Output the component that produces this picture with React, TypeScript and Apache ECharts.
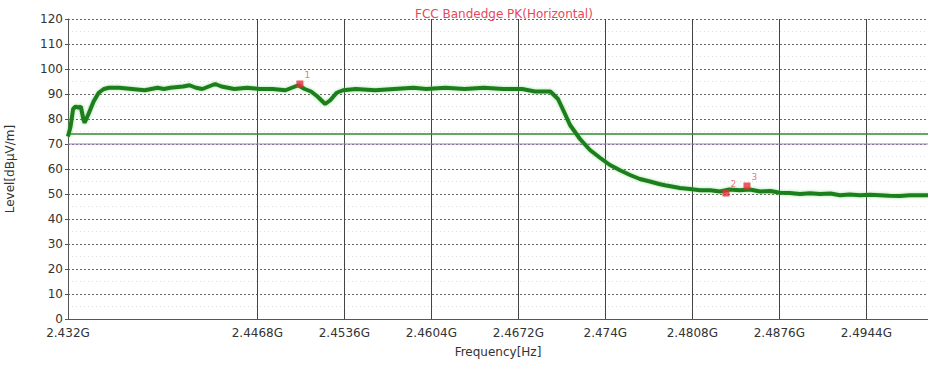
import React, { useEffect, useRef } from "react";
import * as echarts from "echarts";

const titleText = "FCC Bandedge PK(Horizontal)";
const xTickValues = [2.432, 2.4468, 2.4536, 2.4604, 2.4672, 2.474, 2.4808, 2.4876, 2.4944];
const freqs = [
  2.432, 2.4322, 2.4324, 2.4326, 2.4328, 2.433, 2.4332, 2.4333, 2.4336, 2.434,
  2.4344, 2.4348, 2.4352, 2.436, 2.437, 2.438, 2.439, 2.4395, 2.44, 2.441,
  2.4415, 2.442, 2.4425, 2.443, 2.4435, 2.444, 2.445, 2.446, 2.447,
  2.448, 2.449, 2.4495, 2.45, 2.4505, 2.451, 2.4515, 2.4521, 2.4525, 2.453,
  2.4535, 2.4545, 2.456, 2.4575, 2.459, 2.46, 2.4615, 2.463, 2.4645, 2.466,
  2.4675, 2.4685, 2.4697, 2.4703, 2.47085, 2.47124, 2.47202, 2.4728, 2.47358, 2.47436,
  2.47515, 2.47593, 2.4767, 2.47749, 2.4782, 2.47866, 2.4792, 2.47983, 2.4806, 2.4814,
  2.4822, 2.48296, 2.4837, 2.48452, 2.4853, 2.48609, 2.4869, 2.48765, 2.4884, 2.48921,
  2.49, 2.49078, 2.4916, 2.49234, 2.4931, 2.4939, 2.4947, 2.49547, 2.4962, 2.49703,
  2.4978, 2.49922,
];
const levels = [
  73, 77, 84, 85, 84.5, 85, 80, 78.5, 82, 87,
  90.5, 92, 92.5, 92.5, 92, 91.5, 92.5, 92, 92.5, 93,
  93.5, 92.5, 92, 93, 94, 93, 92, 92.5, 92,
  92, 91.5, 92.5, 93.5, 92, 91, 89, 86, 87.5, 90.5,
  91.5, 92, 91.5, 92, 92.5, 92, 92.5, 92, 92.5, 92,
  92, 91, 91, 88, 82, 77.6, 72, 67.6, 64.5, 61.6,
  59.5, 57.6, 56, 55, 54, 53.5, 53, 52.4, 52, 51.5,
  51.5, 51, 51.8, 51.5, 51.8, 51, 51.2, 50.5, 50.4, 50,
  50.3, 50, 50.2, 49.5, 49.8, 49.5, 49.7, 49.5, 49.3, 49.2,
  49.5, 49.5,
];
const markerFreqs = [2.45013, 2.48343, 2.48507];
const markerLevels = [94, 50.4, 53.2];
const markerNames = ["1", "2", "3"];
const limitLevel = 74;
const refLevel = 70;

export default function App() {
  const ref = useRef<HTMLDivElement>(null);
  useEffect(() => {
    if (!ref.current) return;
    const chart = echarts.init(ref.current, null, { renderer: "svg" });
    const fmt = (v: number) => {
      const s = (Math.round(v * 10000) / 10000).toString();
      return s + "G";
    };
    chart.setOption({
      animation: false,
      textStyle: { fontFamily: "DejaVu Sans, sans-serif" },
      title: {
        text: titleText,
        left: 410,
        top: 3,
        textStyle: { color: "#e8485a", fontSize: 12, fontWeight: "normal", fontFamily: "DejaVu Sans" },
      },
      grid: { left: 68, right: 0, top: 19, bottom: 48, outerBoundsMode: "none", containLabel: false },
      xAxis: {
        type: "value",
        min: 2.432,
        max: 2.49922,
        name: "Frequency[Hz]",
        nameLocation: "middle",
        nameGap: 27,
        nameTextStyle: { color: "#333", fontSize: 12, fontFamily: "DejaVu Sans" },
        axisLine: { show: true, lineStyle: { color: "#555", width: 1 } },
        axisTick: { show: false, customValues: xTickValues },
        axisLabel: {
          customValues: xTickValues,
          formatter: fmt,
          color: "#333",
          fontSize: 12,
          margin: 8,
          fontFamily: "DejaVu Sans",
        },
        splitLine: { show: true, lineStyle: { color: "#444", width: 1, type: "solid" } },
      },
      yAxis: {
        type: "value",
        min: 0,
        max: 120,
        interval: 10,
        name: "Level[dBµV/m]",
        nameLocation: "middle",
        nameGap: 52,
        nameTextStyle: { color: "#333", fontSize: 12, fontFamily: "DejaVu Sans" },
        axisLine: { show: true, lineStyle: { color: "#555", width: 1 } },
        axisTick: { show: true, length: 3, lineStyle: { color: "#555" } },
        axisLabel: { color: "#333", fontSize: 12, margin: 5, fontFamily: "DejaVu Sans" },
        splitLine: { show: true, lineStyle: { color: "#666", width: 1, type: [2, 2] } },
        minorTick: { show: false, splitNumber: 2 },
        minorSplitLine: { show: true, lineStyle: { color: "#ddd", width: 1, type: [1, 3] } },
      },
      series: [
        {
          type: "line",
          data: [[2.432, refLevel], [2.49922, refLevel]],
          symbol: "none",
          lineStyle: { color: "#a07cc8", width: 1.2 },
          silent: true,
        },
        {
          type: "line",
          data: [[2.432, limitLevel], [2.49922, limitLevel]],
          symbol: "none",
          lineStyle: { color: "#2e8b2e", width: 1.5 },
          silent: true,
        },
        {
          type: "line",
          data: freqs.map((f, i) => [f, levels[i]]),
          symbol: "none",
          lineStyle: { color: "#1f7f1f", width: 4, shadowColor: "rgba(80,200,80,0.6)", shadowBlur: 3 },
        },
        {
          type: "scatter",
          z: 10,
          data: markerFreqs.map((f, i) => ({ value: [f, markerLevels[i]], name: markerNames[i] })),
          symbol: "rect",
          symbolSize: 7,
          itemStyle: { color: "#e8303a" },
          label: {
            show: true,
            formatter: (p: any) => p.name,
            position: [8, -10],
            color: "#e05060",
            fontSize: 9,
          },
        },
      ],
    });
    return () => chart.dispose();
  }, []);
  return (
    <div
      ref={ref}
      style={{ position: "fixed", left: 0, top: 0, width: 928, height: 367, background: "#fff" }}
    />
  );
}
